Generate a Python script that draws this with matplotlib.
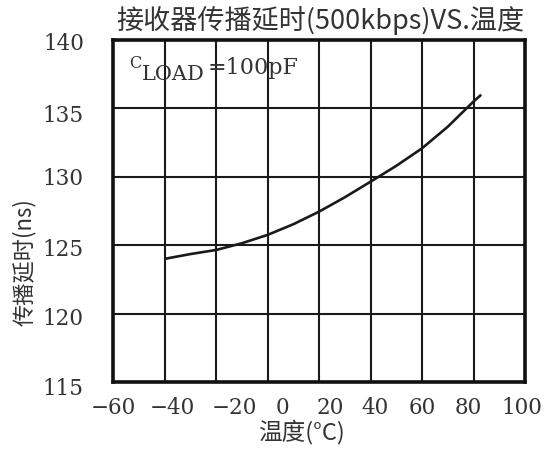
import matplotlib
matplotlib.use("Agg")
import matplotlib.pyplot as plt
from matplotlib.transforms import ScaledTranslation

# ---- data ----
temp_c = [-40, -30, -20, -10, 0, 10, 20, 30, 40, 50, 60, 70, 80, 83]
delay_ns = [124.0, 124.35, 124.65, 125.14, 125.75, 126.53, 127.45,
            128.5, 129.64, 130.8, 132.08, 133.66, 135.5, 136.0]
x_ticks = [-60, -40, -20, 0, 20, 40, 60, 80, 100]
x_tick_labels = ["\u221260", "\u221240", "\u221220", "0", "20", "40", "60", "80", "100"]
y_ticks = [115, 120, 125, 130, 135, 140]
y_tick_labels = ["115", "120", "125", "130", "135", "140"]
title = "接收器传播延时(500kbps)VS.温度"
xlabel = "温度(°C)"
ylabel = "传播延时(ns)"

# ---- layout ----
W, H = 547, 449
fig = plt.figure(figsize=(W / 100, H / 100), dpi=100)
L, R, T, B = 113, 525, 40, 382
ax = fig.add_axes([L / W, (H - B) / H, (R - L) / W, (B - T) / H])

cjk = ["Noto Sans CJK SC", "DejaVu Sans"]
num_font = "DejaVu Serif"
txt_col = "#333333"

ax.plot(temp_c, delay_ns, color="#1a1a1a", lw=1.9, solid_capstyle="butt", zorder=3)

ax.set_xlim(-60, 100)
ax.set_ylim(115, 140)
ax.set_xticks(x_ticks)
ax.set_xticklabels(x_tick_labels, fontfamily=num_font, fontsize=15.5, color=txt_col)
ax.set_yticks(y_ticks)
ax.set_yticklabels(y_tick_labels, fontfamily=num_font, fontsize=15.5, color=txt_col)
ax.tick_params(axis="both", length=0)
ax.tick_params(axis="x", pad=11)
ax.tick_params(axis="y", pad=21)
ax.grid(True, color="#1a1a1a", lw=1.5)
ax.set_axisbelow(True)
for s in ax.spines.values():
    s.set_linewidth(2.6)
    s.set_color("#111111")

# irregular label placement of the original (pixel offsets)
x_off_px = [0, 8, 18, 15, 11, 5, 0, -5, -3]
for lab, dx in zip(ax.get_xticklabels(), x_off_px):
    lab.set_transform(lab.get_transform() + ScaledTranslation(dx / 100, 0, fig.dpi_scale_trans))
y_off_px = [-4, -3, -2, 0, -5, -1]
for lab, dy in zip(ax.get_yticklabels(), y_off_px):
    lab.set_transform(lab.get_transform() + ScaledTranslation(0, dy / 100, fig.dpi_scale_trans))


def fx(px):
    return px / W


def fy(py):
    return 1 - py / H


# CLOAD annotation
fig.text(fx(129), fy(63), "C", fontfamily=num_font, fontsize=11.5, color=txt_col,
         ha="left", va="center")
fig.text(fx(142), fy(80), "LOAD", fontfamily=num_font, fontsize=15, color=txt_col,
         ha="left", va="baseline")
fig.text(fx(208), fy(74), "=100pF", fontfamily=num_font, fontsize=16, color=txt_col,
         ha="left", va="baseline")

fig.text(fx(320), fy(21), title, fontfamily=cjk, fontsize=19.5, color=txt_col,
         ha="center", va="center")
fig.text(fx(301), fy(432), xlabel, fontfamily=cjk, fontsize=17, color=txt_col,
         ha="center", va="center")
fig.text(fx(24), fy(262), ylabel, fontfamily=cjk, fontsize=16, color=txt_col,
         ha="center", va="center", rotation=90)

fig.savefig("out.png", dpi=100, facecolor="white")
